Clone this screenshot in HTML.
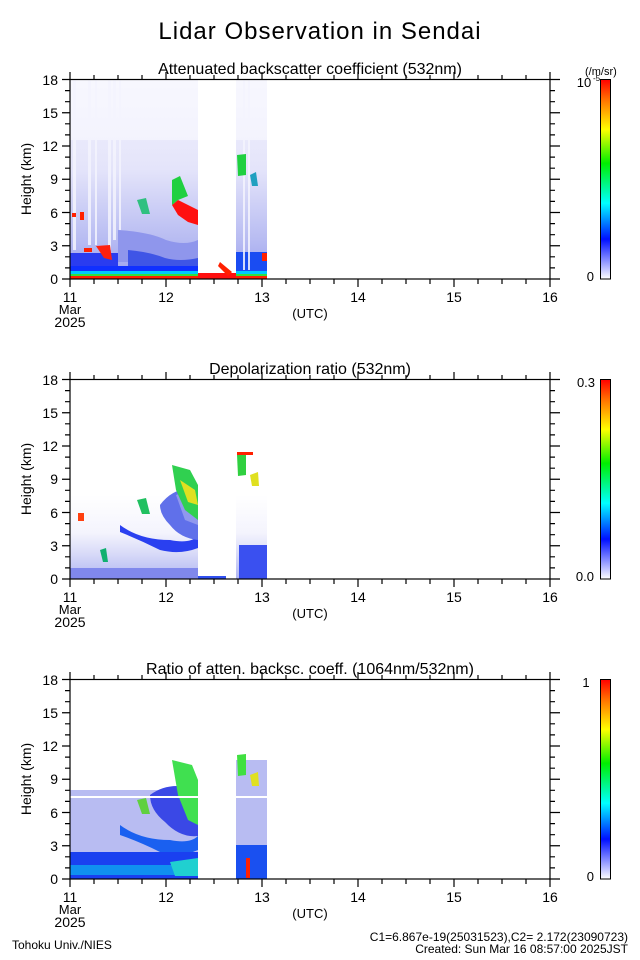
<!DOCTYPE html>
<html><head><meta charset="utf-8"><style>
html,body{margin:0;padding:0;background:#fff;}
svg{display:block;font-family:"Liberation Sans",sans-serif;}
</style></head><body>
<svg width="640" height="960" viewBox="0 0 640 960" xmlns="http://www.w3.org/2000/svg">
<defs>
<linearGradient id="cb" x1="0" y1="0" x2="0" y2="1">
<stop offset="0" stop-color="#ff0000"/><stop offset="0.1" stop-color="#ff7000"/>
<stop offset="0.25" stop-color="#ffff00"/><stop offset="0.42" stop-color="#00ee00"/>
<stop offset="0.62" stop-color="#00ffff"/><stop offset="0.8" stop-color="#0010ff"/>
<stop offset="1" stop-color="#ffffff"/></linearGradient>
<linearGradient id="bg1" x1="0" y1="0" x2="0" y2="1">
<stop offset="0" stop-color="#f3f3fd"/><stop offset="0.45" stop-color="#e4e4fa"/>
<stop offset="0.8" stop-color="#b8bcf2"/><stop offset="1" stop-color="#9aa0ee"/></linearGradient>
<linearGradient id="bg2" x1="0" y1="0" x2="0" y2="1">
<stop offset="0" stop-color="#ffffff"/><stop offset="0.45" stop-color="#f4f4fd"/>
<stop offset="0.7" stop-color="#d8daf8"/><stop offset="1" stop-color="#b0b6f2"/></linearGradient>
<g id="axes" fill="none" stroke="#000" stroke-width="1.2">
<rect x="70" y="79.5" width="480" height="199.5"/>
<path d="M62 279H70M65 267.9H70M65 256.8H70M62 245.75H70M65 234.7H70M65 223.6H70M62 212.5H70M65 201.4H70M65 190.3H70M62 179.25H70M65 168.2H70M65 157.1H70M62 146H70M65 134.9H70M65 123.8H70M62 112.75H70M65 101.7H70M65 90.6H70M62 79.5H70"/>
<path d="M550 279H560M550 267.9H555M550 256.8H555M550 245.75H560M550 234.7H555M550 223.6H555M550 212.5H560M550 201.4H555M550 190.3H555M550 179.25H560M550 168.2H555M550 157.1H555M550 146H560M550 134.9H555M550 123.8H555M550 112.75H560M550 101.7H555M550 90.6H555M550 79.5H560"/>
<path d="M70 79.5V72M94 79.5V75M118 79.5V75M142 79.5V75M166 79.5V72M190 79.5V75M214 79.5V75M238 79.5V75M262 79.5V72M286 79.5V75M310 79.5V75M334 79.5V75M358 79.5V72M382 79.5V75M406 79.5V75M430 79.5V75M454 79.5V72M478 79.5V75M502 79.5V75M526 79.5V75M550 79.5V72"/>
<path d="M70 279V287M94 279V284M118 279V284M142 279V284M166 279V287M190 279V284M214 279V284M238 279V284M262 279V287M286 279V284M310 279V284M334 279V284M358 279V287M382 279V284M406 279V284M430 279V284M454 279V287M478 279V284M502 279V284M526 279V284M550 279V287"/>
</g>
<g id="lbl" font-size="14" fill="#000">
<g text-anchor="end"><text x="58" y="284">0</text><text x="58" y="251">3</text><text x="58" y="218">6</text><text x="58" y="184">9</text><text x="58" y="151">12</text><text x="58" y="118">15</text><text x="58" y="85">18</text></g>
<text transform="translate(31,179) rotate(-90)" text-anchor="middle" font-size="14">Height (km)</text>
<g text-anchor="middle"><text x="70" y="302">11</text><text x="166" y="302">12</text><text x="262" y="302">13</text><text x="358" y="302">14</text><text x="454" y="302">15</text><text x="550" y="302">16</text>
<text x="70" y="314" font-size="13">Mar</text><text x="70" y="327">2025</text><text x="310" y="318" font-size="13">(UTC)</text></g>
<rect x="600.5" y="79.5" width="10" height="199.5" fill="url(#cb)" stroke="#000"/>
</g>
</defs>

<text x="320" y="39" text-anchor="middle" font-size="24" letter-spacing="1">Lidar Observation in Sendai</text>

<!-- Panel 1 -->
<g>
<text x="310" y="74" text-anchor="middle" font-size="16">Attenuated backscatter coefficient (532nm)</text>
<rect x="70" y="80" width="128" height="199" fill="url(#bg1)"/>
<rect x="236" y="80" width="31" height="199" fill="url(#bg1)"/>
<rect x="70" y="80" width="197" height="60" fill="#fafaff" opacity="0.6"/>
<path d="M118 230 Q150 232 166 240 Q185 246 198 240 L198 262 L118 262Z" fill="#8f96ec"/>
<path d="M128 250 Q150 252 165 258 Q180 262 198 258 L198 266 L128 266Z" fill="#3f55e6"/>
<path d="M70 253 H118 V268 H70Z" fill="#2a3cf0"/>
<rect x="70" y="266" width="128" height="8" fill="#1030ff"/>
<rect x="236" y="252" width="31" height="22" fill="#1a4cf2"/>
<rect x="70" y="271" width="197" height="3" fill="#00c8ff"/>
<rect x="70" y="274" width="197" height="2" fill="#30e040"/>
<rect x="70" y="276" width="197" height="3" fill="#ff2000"/>
<g fill="#f4f4fe" opacity="0.85"><rect x="73" y="80" width="3" height="170"/><rect x="88" y="80" width="3" height="165"/><rect x="95" y="80" width="2" height="165"/><rect x="108" y="80" width="3" height="170"/><rect x="113" y="80" width="3" height="160"/><rect x="119" y="80" width="2" height="150"/><rect x="243" y="80" width="2" height="190"/><rect x="248" y="80" width="2" height="190"/></g>
<rect x="198" y="273" width="38" height="6" fill="#ff1010"/>
<rect x="198" y="80" width="38" height="193" fill="#fff"/>
<path d="M178 200 L198 210 L198 225 L188 222 L178 215 L172 205Z" fill="#ff1010"/>
<path d="M172 180 L180 176 L188 196 L178 200 L172 205Z" fill="#20d040"/>
<path d="M137 200 L146 198 L150 214 L142 214Z" fill="#30c080"/>
<path d="M237 155 L246 154 L246 175 L238 176Z" fill="#20d040"/>
<path d="M250 175 L256 172 L258 186 L252 186Z" fill="#20a0c0"/>
<rect x="84" y="248" width="8" height="4" fill="#ff2000"/><rect x="72" y="213" width="4" height="4" fill="#ff2000"/>
<path d="M96 246 L110 245 L112 260 L104 258Z" fill="#ff2010"/>
<rect x="80" y="212" width="4" height="8" fill="#ff2000"/>
<rect x="262" y="253" width="5" height="8" fill="#ff2000"/>
<path d="M220 262 L232 272 L228 276 L218 266Z" fill="#ff2000"/>
</g>
<use href="#axes"/><use href="#lbl"/>
<text x="584" y="87" text-anchor="middle" font-size="13">10</text><text x="593" y="81" font-size="8">-5</text>
<text x="585" y="75" font-size="11">(/m/sr)</text>
<text x="594" y="281" text-anchor="end" font-size="13">0</text>

<!-- Panel 2 -->
<g transform="translate(0,300)">
<text x="310" y="74" text-anchor="middle" font-size="16">Depolarization ratio (532nm)</text>
<rect x="70" y="195" width="128" height="84" fill="url(#bg2)"/>
<rect x="236" y="195" width="31" height="84" fill="url(#bg2)"/>
<path d="M120 225 Q140 240 170 240 Q190 244 198 236 L198 248 Q180 255 160 250 Q140 240 120 232Z" fill="#2a40f0"/>
<path d="M160 205 Q175 185 198 190 L198 240 Q180 238 170 225 Q160 215 160 205Z" fill="#6070ea"/>
<path d="M176 195 L192 190 L198 200 L198 225 L185 220Z" fill="#9098ee"/>
<path d="M172 165 L190 170 L198 185 L198 220 L185 210 L176 190Z" fill="#30d050"/>
<path d="M180 180 L195 190 L198 205 L188 202Z" fill="#e0e020"/>
<path d="M137 200 L146 198 L150 214 L142 214Z" fill="#20c060"/>
<path d="M237 155 L246 154 L246 175 L238 176Z" fill="#30d040"/>
<rect x="237" y="152" width="16" height="3" fill="#ff2000"/>
<path d="M250 175 L258 172 L259 186 L252 186Z" fill="#e0e020"/>
<rect x="239" y="245" width="28" height="34" fill="#3a50f0"/>
<rect x="70" y="268" width="128" height="11" fill="#8088ec"/>
<rect x="198" y="276" width="28" height="3" fill="#3050f0"/>
<rect x="78" y="213" width="6" height="8" fill="#ff4010"/>
<path d="M100 250 L106 248 L108 262 L103 262Z" fill="#10b070"/>
</g>
<g transform="translate(0,300)"><use href="#axes"/><use href="#lbl"/></g>
<text x="586" y="387" text-anchor="middle" font-size="13">0.3</text>
<text x="594" y="581" text-anchor="end" font-size="13">0.0</text>

<!-- Panel 3 -->
<g transform="translate(0,600)">
<text x="310" y="74" text-anchor="middle" font-size="16">Ratio of atten. backsc. coeff. (1064nm/532nm)</text>
<rect x="70" y="190" width="128" height="89" fill="#b8bcf2"/>
<rect x="236" y="160" width="31" height="119" fill="#b8bcf2"/>
<path d="M120 225 Q140 240 170 240 Q190 244 198 236 L198 250 Q180 258 160 252 Q140 242 120 235Z" fill="#1a60f0"/>
<path d="M150 195 Q170 180 198 190 L198 236 Q180 238 165 222 Q150 210 150 195Z" fill="#3a48e6"/>
<path d="M172 160 L192 165 L198 180 L198 225 L188 220 L178 195Z" fill="#40e050"/>
<rect x="70" y="252" width="128" height="27" fill="#1a40f0"/>
<rect x="236" y="245" width="31" height="34" fill="#1a50f0"/>
<rect x="70" y="265" width="128" height="10" fill="#1090f0"/>
<path d="M170 262 L198 258 L198 276 L175 276Z" fill="#20d0d0"/>
<path d="M137 200 L146 198 L150 214 L142 214Z" fill="#60d040"/>
<path d="M237 155 L246 154 L246 175 L238 176Z" fill="#40e040"/>
<path d="M250 175 L258 172 L259 186 L252 186Z" fill="#e0e020"/>
<rect x="246" y="258" width="4" height="20" fill="#ff2000"/>
<rect x="70" y="196" width="197" height="2" fill="#ffffff"/>
</g>
<g transform="translate(0,600)"><use href="#axes"/><use href="#lbl"/></g>
<text x="586" y="687" text-anchor="middle" font-size="13">1</text>
<text x="594" y="881" text-anchor="end" font-size="13">0</text>

<text x="12" y="949" font-size="12">Tohoku Univ./NIES</text>
<text x="628" y="941" text-anchor="end" font-size="12">C1=6.867e-19(25031523),C2= 2.172(23090723)</text>
<text x="628" y="953" text-anchor="end" font-size="12">Created: Sun Mar 16 08:57:00 2025JST</text>
</svg>
</body></html>
